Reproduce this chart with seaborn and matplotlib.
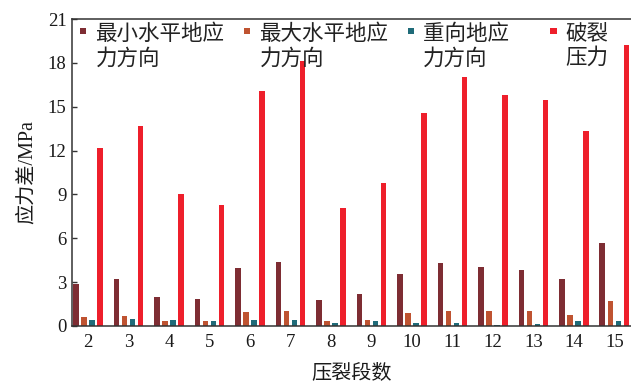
import matplotlib
matplotlib.use("Agg")
import matplotlib.pyplot as plt
import seaborn as sns
import pandas as pd

# Fracturing stages and the stress difference (MPa) in each direction
stages = ["2", "3", "4", "5", "6", "7", "8", "9", "10", "11", "12", "13", "14", "15"]
min_horizontal = [2.85, 3.2, 1.95, 1.85, 3.95, 4.4, 1.8, 2.2, 3.55, 4.3, 4.05, 3.85, 3.2, 5.65]
max_horizontal = [0.6, 0.65, 0.32, 0.32, 0.95, 1.05, 0.32, 0.42, 0.87, 1.05, 1.05, 1.05, 0.77, 1.7]
vertical = [0.42, 0.5, 0.42, 0.32, 0.42, 0.42, 0.23, 0.32, 0.2, 0.2, 0.05, 0.14, 0.32, 0.32]
fracture_pressure = [12.2, 13.7, 9.0, 8.3, 16.1, 18.1, 8.1, 9.8, 14.55, 17.05, 15.8, 15.45, 13.35, 19.25]

series_names = ["最小水平地应\n力方向", "最大水平地应\n力方向", "重向地应\u3000\n力方向", "破裂\n压力"]
series_values = [min_horizontal, max_horizontal, vertical, fracture_pressure]
colors = ["#7E2D33", "#BF5331", "#1F6B79", "#EE1F2B"]

df = pd.DataFrame(
    [(s, name, v) for name, vals in zip(series_names, series_values) for s, v in zip(stages, vals)],
    columns=["stage", "direction", "value"],
)

sns.set_theme(style="white")
plt.rcParams["font.family"] = ["Liberation Serif", "Noto Sans CJK SC"]
plt.rcParams["axes.unicode_minus"] = False

fig = plt.figure(figsize=(6.31, 3.82), dpi=100)
ax = fig.add_axes([72 / 631, 1 - 326 / 382, 1 - 72 / 631, (326 - 19) / 382])

sns.barplot(
    data=df, x="stage", y="value", hue="direction", order=stages,
    hue_order=series_names, palette=colors, width=0.8, gap=0.32,
    saturation=1, linewidth=0, edgecolor="none", ax=ax,
)

ax.set_xlim(-0.395, 13.41)
ax.set_ylim(0, 21)
ax.set_yticks(range(0, 22, 3))

for side in ["left", "bottom", "top"]:
    ax.spines[side].set_visible(True)
    ax.spines[side].set_color("#333333")
    ax.spines[side].set_linewidth(1.1)
ax.spines["right"].set_visible(False)

ax.tick_params(axis="y", direction="in", length=3.5, width=1.0, color="#333333",
               labelsize=13.5, labelcolor="#1a1a1a", pad=4, left=True)
ax.tick_params(axis="x", length=0, labelsize=13.5, labelcolor="#1a1a1a", pad=6)

ax.set_xlabel("压裂段数", fontsize=14.5, color="#1a1a1a", labelpad=9)
ax.set_ylabel("应力差/MPa", fontsize=14.5, color="#1a1a1a", labelpad=8)

handles, labels = ax.get_legend_handles_labels()
leg = ax.legend(
    handles, labels, ncol=4, loc="upper left",
    bbox_to_anchor=(80 / 631, 1 - 24 / 382), bbox_transform=fig.transFigure,
    frameon=False, borderpad=0, borderaxespad=0, fontsize=15.5,
    handlelength=0.3, handleheight=0.05, handletextpad=0.42,
    columnspacing=0.9, labelspacing=0.2,
)
for t in leg.get_texts():
    t.set_color("#222222")
    t.set_linespacing(1.28)
for h in leg.legend_handles:
    h.set_linewidth(0)
    h.set_edgecolor("none")

# lift each legend square up to the first line of its label
fig.canvas.draw()
for h, t in zip(leg.legend_handles, leg.get_texts()):
    tb = t.get_window_extent()
    hb = h.get_window_extent()
    dy_px = (tb.y1 - 4) - hb.y1
    h.set_y(h.get_y() + dy_px * 72 / fig.dpi)

fig.savefig("out.png", dpi=100)
